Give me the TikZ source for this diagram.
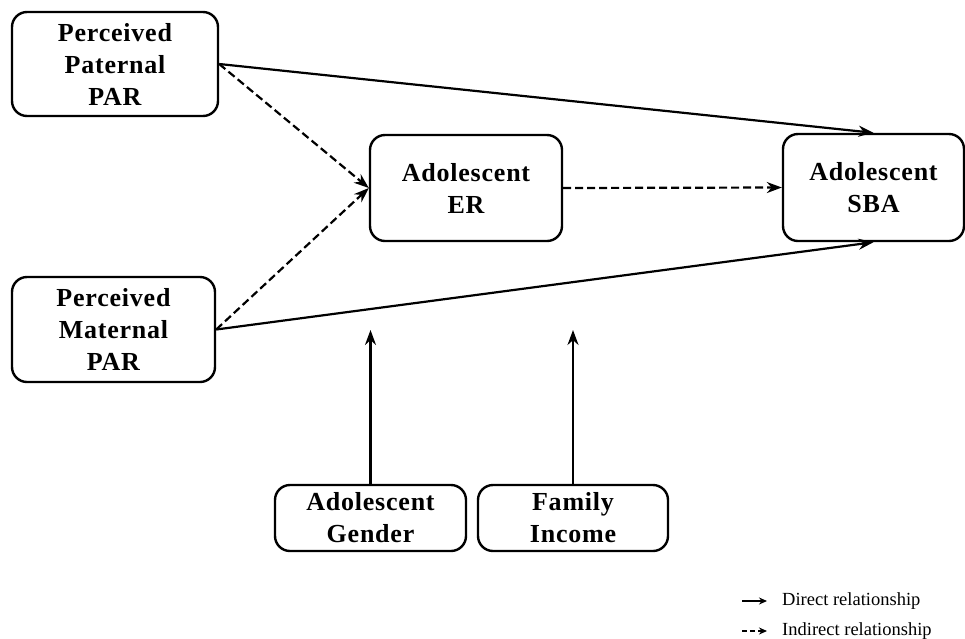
\documentclass[tikz,border=0pt]{standalone}
\usepackage{fontspec}
\setmainfont{Liberation Serif}
\newfontfamily\boxfont[LetterSpace=3]{Liberation Serif}
\usetikzlibrary{arrows.meta}
\begin{document}
\begin{tikzpicture}[x=1pt,y=-1pt,
  box/.style={draw, line width=2.4pt, rounded corners=15pt, align=center,
    font=\boxfont\bfseries\fontsize{26}{32}\selectfont, inner sep=0pt},
  direct/.style={line width=2.2pt, -{Stealth[length=15pt,width=11pt]}},
  indirect/.style={line width=2.2pt, dash pattern=on 8pt off 4pt, -{Stealth[length=15pt,width=11pt]}},
  legarrow/.style={line width=1.5pt, -{Stealth[length=8pt,width=7pt]}},
  legtext/.style={anchor=west, inner sep=0pt, font=\fontsize{18.5}{20}\selectfont}
]
\useasboundingbox (0,0) rectangle (965,638);

\node[box, minimum width=206pt, minimum height=104pt] (pat) at (115,64) {Perceived\\Paternal\\PAR};
\node[box, minimum width=203pt, minimum height=105pt] (mat) at (113.5,329.5) {Perceived\\Maternal\\PAR};
\node[box, minimum width=192pt, minimum height=106pt] (er) at (466,188) {Adolescent\\ER};
\node[box, minimum width=181pt, minimum height=107pt] (sba) at (873.5,187.5) {Adolescent\\SBA};
\node[box, minimum width=191pt, minimum height=66pt] (gen) at (370.5,518) {Adolescent\\Gender};
\node[box, minimum width=190pt, minimum height=66pt] (inc) at (573,518) {Family\\Income};

\coordinate (gtip) at (370.5,330);
\coordinate (itip) at (573,330);

\draw[direct] (pat.east) -- (sba.north);
\draw[indirect] (pat.east) -- (er.west);
\draw[indirect] (mat.east) -- (er.west);
\draw[direct] (mat.east) -- (sba.south);
\draw[indirect] (er.east) -- (sba.west);
\draw[direct] (gen.north) -- (gtip);
\draw[direct] (inc.north) -- (itip);

% legend
\coordinate (l1a) at (742,601);
\coordinate (l1b) at (767,601);
\coordinate (l2a) at (742,631);
\coordinate (l2b) at (767,631);
\draw[legarrow] (l1a) -- (l1b);
\draw[legarrow, dash pattern=on 5pt off 3pt] (l2a) -- (l2b);
\node[legtext] (t1) at (782,601) {Direct relationship};
\node[legtext] (t2) at (782,631) {Indirect relationship};
\end{tikzpicture}
\end{document}
